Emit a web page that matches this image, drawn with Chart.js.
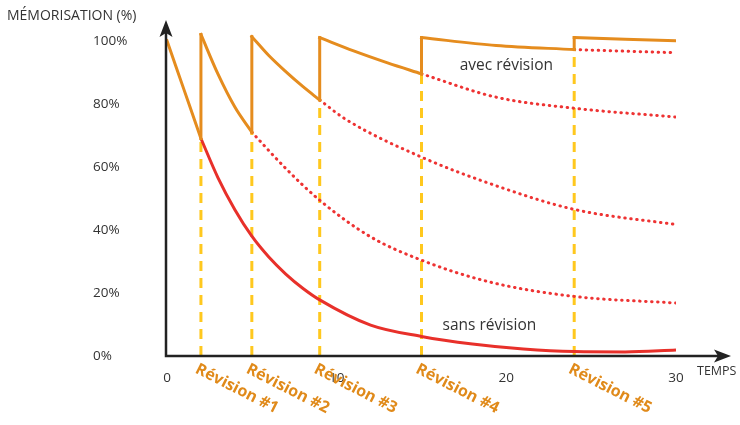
<!DOCTYPE html>
<html lang="fr">
<head>
  <meta charset="UTF-8" />
  <title>Mémorisation et révisions</title>
  <script src="https://cdn.jsdelivr.net/npm/chart.js"></script>
  <style>
    html, body { margin: 0; padding: 0; background: #fff; }
    #wrap { width: 740px; height: 425px; }
  </style>
</head>
<body>
  <div id="wrap"><canvas id="chart"></canvas></div>

  <script>
    // axes
    const xTicks = [0, 10, 20, 30];
    const yTicks = [0, 20, 40, 60, 80, 100];

    // moments de révision et mémorisation juste avant / juste après
    const tempsRevisions = [2, 5, 9, 15, 24];
    const revisionLabels = ['Révision #1', 'Révision #2', 'Révision #3', 'Révision #4', 'Révision #5'];
    const avantRevision = [69, 71, 81.2, 89.5, 97.2];
    const apresRevision = [102, 101.3, 101, 101, 101];

    // courbe "avec révision", un morceau entre chaque révision
    const seg0T = [0, 1, 2],          seg0 = [100, 84.5, 69];
    const seg1T = [2, 3, 4, 5],       seg1 = [102, 89.5, 79, 71];
    const seg2T = [5, 6, 7, 8, 9],    seg2 = [101.3, 95.3, 90.2, 85.5, 81.2];
    const seg3T = [9, 11, 13, 15],    seg3 = [101, 96.8, 93, 89.5];
    const seg4T = [15, 19.4, 24],     seg4 = [101, 98.5, 97.2];
    const seg5T = [24, 30],           seg5 = [101, 100];

    // courbe "sans révision"
    const sansT = [2, 3, 4, 5, 6, 7, 8, 9, 12, 15, 18, 21, 24, 27, 30];
    const sansRevision = [69, 56.6, 46.4, 38, 31.4, 26, 21.5, 17.8, 9.8, 6.2, 3.8, 2.2, 1.4, 1.3, 1.9];

    // oubli si on arrête de réviser (pointillés)
    const oubli1T = [5, 7, 9, 12, 15, 19, 24, 30],   oubli1 = [71, 59.5, 49.4, 37.8, 30.4, 23.5, 18.9, 16.8];
    const oubli2T = [9, 10.5, 15, 19.4, 24, 30],     oubli2 = [81.2, 75.2, 63.1, 54, 46.5, 41.7];
    const oubli3T = [15, 19.4, 24, 30],              oubli3 = [89.5, 82.1, 78.6, 75.8];
    const oubli4T = [24, 30],                        oubli4 = [97.2, 96.2];

    const ORANGE = '#E58C1E';
    const RED = '#E8302A';
    const GOLD = '#FFC81E';
    const TXT = '#333';

    const pts = (xs, ys) => xs.map((x, i) => ({ x: x, y: ys[i] }));

    const datasets = [];

    // orange segments (on top)
    [[seg0T, seg0], [seg1T, seg1], [seg2T, seg2], [seg3T, seg3], [seg4T, seg4], [seg5T, seg5]].forEach(s => {
      datasets.push({
        data: pts(s[0], s[1]), borderColor: ORANGE, borderWidth: 3,
        cubicInterpolationMode: 'monotone', borderCapStyle: 'square', pointRadius: 0, order: 1
      });
    });
    // sauts verticaux au moment des révisions
    tempsRevisions.forEach((t, i) => {
      datasets.push({
        data: [{ x: t, y: avantRevision[i] }, { x: t, y: apresRevision[i] }],
        borderColor: ORANGE, borderWidth: 3, borderCapStyle: 'square', pointRadius: 0, order: 1
      });
    });
    datasets.push({
      data: pts(sansT, sansRevision), borderColor: RED, borderWidth: 3,
      cubicInterpolationMode: 'monotone', pointRadius: 0, order: 3
    });
    [[oubli1T, oubli1], [oubli2T, oubli2], [oubli3T, oubli3], [oubli4T, oubli4]].forEach(s => {
      datasets.push({
        data: pts(s[0], s[1]), borderColor: '#EE3333', borderWidth: 3,
        borderDash: [0.5, 5.5], borderCapStyle: 'round',
        cubicInterpolationMode: 'monotone', pointRadius: 0, order: 5
      });
    });
    // tirets jaunes
    tempsRevisions.forEach((t, i) => {
      datasets.push({
        data: [{ x: t, y: 0 }, { x: t, y: avantRevision[i] }],
        borderColor: GOLD, borderWidth: 3, borderDash: [10, 7], pointRadius: 0, order: 10
      });
    });

    // axes fléchés + textes
    const decor = {
      id: 'decor',
      afterDraw(chart) {
        const { ctx, scales: { x, y } } = chart;
        const x0 = x.getPixelForValue(0) - 1;
        const y0 = y.getPixelForValue(0);
        ctx.save();
        ctx.strokeStyle = '#222';
        ctx.fillStyle = '#222';
        ctx.lineWidth = 2.5;
        ctx.beginPath();
        ctx.moveTo(x0, y0 + 1.2); ctx.lineTo(x0, 32);
        ctx.moveTo(x0 - 1.2, y0); ctx.lineTo(719, y0);
        ctx.stroke();
        ctx.beginPath();
        ctx.moveTo(x0, 20); ctx.lineTo(x0 + 6.5, 37); ctx.lineTo(x0, 33); ctx.lineTo(x0 - 6.5, 37);
        ctx.closePath(); ctx.fill();
        ctx.beginPath();
        ctx.moveTo(731, y0); ctx.lineTo(714, y0 - 6.5); ctx.lineTo(718, y0); ctx.lineTo(714, y0 + 6.5);
        ctx.closePath(); ctx.fill();

        ctx.fillStyle = TXT;
        ctx.textBaseline = 'middle';
        ctx.textAlign = 'left';
        ctx.font = '14px "Open Sans"';
        ctx.fillText('MÉMORISATION (%)', 7, 16);
        ctx.font = '12.5px "Open Sans"';
        ctx.fillText('TEMPS', 697, 371);

        ctx.font = '15.5px "Open Sans"';
        ctx.textAlign = 'center';
        ctx.fillText('avec révision', x.getPixelForValue(20), y.getPixelForValue(92));
        ctx.fillText('sans révision', x.getPixelForValue(19), y.getPixelForValue(9.8));

        ctx.font = 'bold 16px "Open Sans"';
        ctx.fillStyle = '#E08A1A';
        ctx.textAlign = 'left';
        ctx.textBaseline = 'top';
        tempsRevisions.forEach((t, i) => {
          ctx.save();
          ctx.translate(x.getPixelForValue(t) - 1, 361);
          ctx.rotate(27 * Math.PI / 180);
          ctx.fillText(revisionLabels[i], 0, 0);
          ctx.restore();
        });
        ctx.restore();
      }
    };

    new Chart(document.getElementById('chart'), {
      type: 'line',
      data: { datasets: datasets },
      options: {
        responsive: true,
        maintainAspectRatio: false,
        animation: false,
        layout: { padding: { left: 93, right: 64, top: 25, bottom: 0 } },
        plugins: { legend: { display: false }, tooltip: { enabled: false } },
        scales: {
          x: {
            type: 'linear', min: 0, max: 30,
            grid: { display: false }, border: { display: false },
            afterBuildTicks: s => { s.ticks = xTicks.map(v => ({ value: v })); },
            afterFit: s => { s.height = 69; },
            ticks: { color: TXT, padding: 6, maxRotation: 0, font: { family: 'Open Sans', size: 13.5 } }
          },
          y: {
            min: 0, max: 105,
            grid: { display: false }, border: { display: false },
            afterBuildTicks: s => { s.ticks = yTicks.map(v => ({ value: v })); },
            afterFit: s => { s.width = 74; },
            ticks: {
              color: TXT, crossAlign: 'far', font: { family: 'Open Sans', size: 13.5 },
              callback: v => v + '%'
            }
          }
        }
      },
      plugins: [decor]
    });
  </script>
</body>
</html>
